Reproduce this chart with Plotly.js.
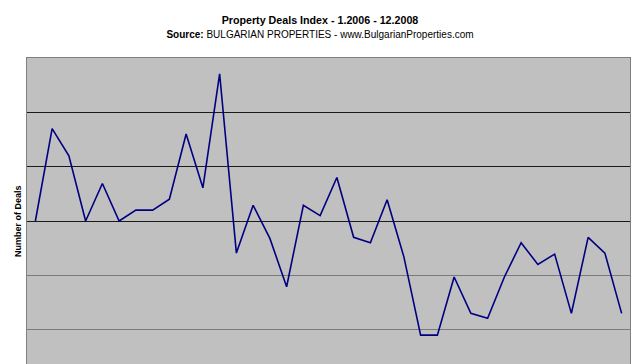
<!DOCTYPE html>
<html>
<head>
<meta charset="utf-8">
<script src="https://cdn.plot.ly/plotly-3.0.1.min.js"></script>
<style>
  html, body { margin: 0; padding: 0; overflow: hidden; background: #fff; }
  #chart { width: 640px; height: 480px; }
</style>
</head>
<body>
<div id="chart"></div>
<script>
// Months 1.2006 - 12.2008
const months = [
  "1.2006","2.2006","3.2006","4.2006","5.2006","6.2006","7.2006","8.2006","9.2006","10.2006","11.2006","12.2006",
  "1.2007","2.2007","3.2007","4.2007","5.2007","6.2007","7.2007","8.2007","9.2007","10.2007","11.2007","12.2007",
  "1.2008","2.2008","3.2008","4.2008","5.2008","6.2008","7.2008","8.2008","9.2008","10.2008","11.2008","12.2008"
];
// Property deals index (relative units, gridline step = 1)
const deals = [
  3.00, 4.70, 4.20, 3.00, 3.69, 3.00, 3.20, 3.20, 3.40, 4.60, 3.61, 5.71,
  2.41, 3.29, 2.68, 1.79, 3.29, 3.10, 3.80, 2.70, 2.60, 3.39, 2.34, 0.90,
  0.90, 1.97, 1.30, 1.21, 1.97, 2.60, 2.20, 2.39, 1.30, 2.70, 2.41, 1.30
];
const yRange = [0, 6];
const darkGrid = [3, 4, 5];
const lightGrid = [1, 2];

const FONT = '"Liberation Sans", Arial, sans-serif';

const traces = [
  {
    type: 'scatter', mode: 'lines',
    x: months, y: deals,
    line: { color: '#000080', width: 1.6 },
    hoverinfo: 'x+y', showlegend: false
  },
  {
    type: 'scatter', mode: 'lines',
    x: [], y: [], yaxis: 'y2',
    hoverinfo: 'skip', showlegend: false
  }
];

const layout = {
  width: 640, height: 480,
  margin: { l: 27, r: 10, t: 58, b: 96, pad: 0 },
  paper_bgcolor: '#ffffff',
  plot_bgcolor: '#c0c0c0',
  font: { family: FONT, color: '#000' },
  title: {
    text: '<b>Property Deals Index - 1.2006 - 12.2008</b><br><span style="font-size:10px"><b>Source:</b> BULGARIAN PROPERTIES - www.BulgarianProperties.com</span>',
    font: { family: FONT, size: 10.7, color: '#000' },
    xref: 'container', x: 0.5, xanchor: 'center',
    yref: 'container', y: 1 - 24 / 480, yanchor: 'top'
  },
  xaxis: {
    type: 'category',
    range: [-0.5, months.length - 0.5],
    showgrid: false, zeroline: false,
    showline: true, linecolor: '#808080', mirror: true,
    ticks: '', showticklabels: false
  },
  yaxis: {
    range: yRange, fixedrange: true,
    tickmode: 'array', tickvals: darkGrid,
    showgrid: true, gridcolor: '#1a1a1a', gridwidth: 1,
    zeroline: false, showticklabels: false, ticks: '',
    showline: true, linecolor: '#808080', mirror: true
  },
  yaxis2: {
    overlaying: 'y', side: 'left',
    range: yRange, fixedrange: true,
    tickmode: 'array', tickvals: lightGrid,
    showgrid: true, gridcolor: '#7a7a7a', gridwidth: 1,
    zeroline: false, showticklabels: false, ticks: '', showline: false
  },
  annotations: [
    {
      text: '<b>Number of Deals</b>',
      textangle: -90,
      xref: 'paper', yref: 'paper',
      x: 0, y: 0.5, xanchor: 'center', yanchor: 'middle',
      xshift: -9, showarrow: false,
      font: { family: FONT, size: 9, color: '#000' }
    }
  ]
};

Plotly.newPlot('chart', traces, layout, { displayModeBar: false, staticPlot: true });
</script>
</body>
</html>
